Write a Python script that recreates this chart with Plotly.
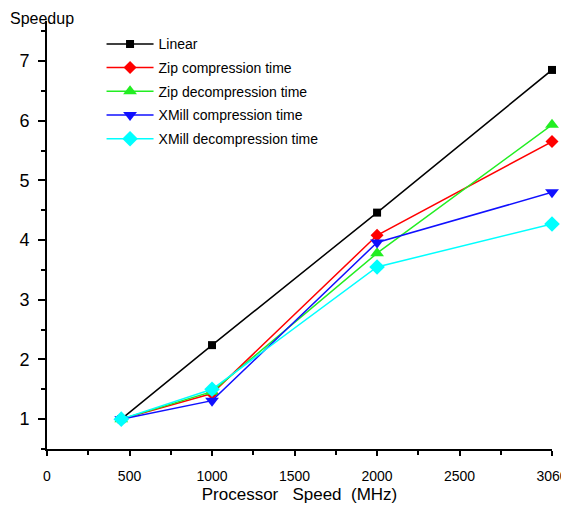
import plotly.graph_objects as go

speed_mhz = [450, 1000, 2000, 3060]
linear = [1.0, 2.24, 4.46, 6.85]
zip_comp = [1.0, 1.43, 4.08, 5.65]
zip_decomp = [1.0, 1.46, 3.78, 5.93]
xmill_comp = [1.0, 1.31, 3.96, 4.80]
xmill_decomp = [1.0, 1.50, 3.55, 4.27]

x_ticks = [0, 500, 1000, 1500, 2000, 2500, 3060]
x_minor = [250, 750, 1250, 1750, 2250, 2750]
y_ticks = [1, 2, 3, 4, 5, 6, 7]
y_minor = [0.5, 1.5, 2.5, 3.5, 4.5, 5.5, 6.5, 7.5]

series = [
    ("Linear", linear, "#000000", "square", 8),
    ("Zip compression time", zip_comp, "#ff0000", "diamond", 10),
    ("Zip decompression time", zip_decomp, "#22ee22", "triangle-up", 12),
    ("XMill compression time", xmill_comp, "#1010ff", "triangle-down", 12),
    ("XMill decompression time", xmill_decomp, "#00ffff", "diamond", 12),
]

fig = go.Figure()
for name, vals, color, symbol, size in series:
    fig.add_trace(go.Scatter(
        x=speed_mhz, y=vals, name=name, mode="lines+markers",
        legendgroup=name,
        line=dict(color=color, width=1.5),
        marker=dict(symbol=symbol, size=size, color=color, line=dict(width=0)),
        cliponaxis=False,
    ))

axis_font = dict(family="Liberation Sans, Arial, sans-serif", color="black")

# the page body adds an 8px margin, so the figure is sized to fit the window
fig.update_layout(
    width=561, height=500,
    margin=dict(l=39, r=17, t=13, b=59),
    paper_bgcolor="white", plot_bgcolor="white",
    font=axis_font,
    showlegend=True,
    legend=dict(
        x=0.108, y=0.983, xanchor="left", yanchor="top",
        bgcolor="rgba(0,0,0,0)", borderwidth=0,
        font=dict(size=14, color="black"),
        itemwidth=47, tracegroupgap=2.5,
    ),
    xaxis=dict(
        range=[0, 3060], showgrid=False, zeroline=False, automargin=False,
        showline=True, linecolor="black", linewidth=2,
        tickmode="array", tickvals=x_ticks,
        ticks="outside", ticklen=5, tickwidth=2, tickcolor="black",
        tickfont=dict(size=14), ticklabelstandoff=8,
        minor=dict(tickvals=x_minor, ticks="outside", ticklen=4, tickwidth=2, tickcolor="black"),
        title=dict(text="Processor\u00a0\u00a0 Speed\u00a0 (MHz)", font=dict(size=17), standoff=5),
    ),
    yaxis=dict(
        range=[0.5, 7.67], showgrid=False, zeroline=False, automargin=False,
        showline=True, linecolor="black", linewidth=2,
        tickmode="array", tickvals=y_ticks,
        ticks="outside", ticklen=7, tickwidth=2, tickcolor="black",
        tickfont=dict(size=18), ticklabelstandoff=5,
        minor=dict(tickvals=y_minor, ticks="outside", ticklen=4, tickwidth=2, tickcolor="black"),
    ),
    annotations=[dict(
        text="Speedup", xref="paper", yref="paper",
        x=-0.077, y=1.03, xanchor="left", yanchor="top",
        showarrow=False, font=dict(size=16, color="black"),
    )],
)

fig.write_html("out.html")
